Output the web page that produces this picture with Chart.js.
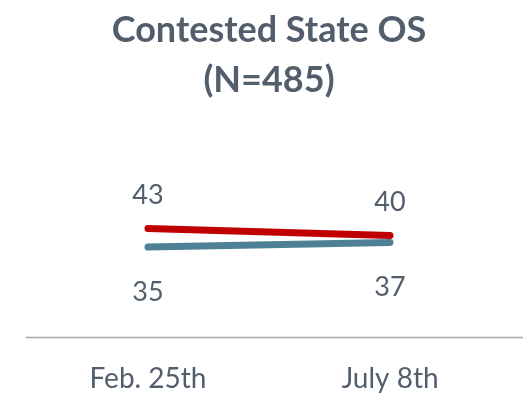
<!DOCTYPE html>
<html>
<head>
<meta charset="utf-8">
<script src="https://cdn.jsdelivr.net/npm/chart.js@4"></script>
<style>
  html, body { margin: 0; padding: 0; background: #fff; }
  #wrap { width: 523px; height: 396px; }
</style>
</head>
<body>
<div id="wrap"><canvas id="osChart"></canvas></div>
<script>
var dates = ['Feb. 25th', 'July 8th'];
var redValues = [43, 40];
var tealValues = [35, 37];

var textColor = '#525e6b';

// value labels: red above the line, teal below it
var valueLabels = {
    id: 'valueLabels',
    afterDatasetsDraw: function (chart) {
        var ctx = chart.ctx;
        ctx.save();
        ctx.font = '27px Lato';
        ctx.fillStyle = textColor;
        ctx.textAlign = 'center';
        ctx.textBaseline = 'middle';
        chart.data.datasets.forEach(function (ds, i) {
            var meta = chart.getDatasetMeta(i);
            meta.data.forEach(function (pt, j) {
                var dy = i === 0 ? -33 : 45;
                ctx.fillText(ds.data[j], pt.x, pt.y + dy);
            });
        });
        ctx.restore();
    }
};

// baseline under the plot
var baseLine = {
    id: 'baseLine',
    beforeDatasetsDraw: function (chart) {
        var ctx = chart.ctx;
        var y = chart.chartArea.bottom + 9;
        ctx.save();
        ctx.strokeStyle = '#a6a6a6';
        ctx.lineWidth = 1.5;
        ctx.beginPath();
        ctx.moveTo(26, y);
        ctx.lineTo(chart.width, y);
        ctx.stroke();
        ctx.restore();
    }
};

new Chart(document.getElementById('osChart').getContext('2d'), {
    type: 'line',
    data: {
        labels: dates,
        datasets: [{
            data: redValues,
            borderColor: '#c00000',
            borderWidth: 7,
            borderCapStyle: 'round',
            pointRadius: 0,
            fill: false
        }, {
            data: tealValues,
            borderColor: '#4f8196',
            borderWidth: 7,
            borderCapStyle: 'round',
            pointRadius: 0,
            fill: false
        }]
    },
    options: {
        responsive: true,
        maintainAspectRatio: false,
        animation: false,
        layout: { padding: { left: 27, right: 12, top: 4, bottom: -26 } },
        plugins: {
            legend: { display: false },
            tooltip: { enabled: false },
            title: {
                display: true,
                text: ['Contested State OS', '(N=485)'],
                color: textColor,
                font: { family: 'Lato', size: 36, weight: 'bold', lineHeight: 1.38 },
                padding: { top: 2, bottom: 0 }
            }
        },
        scales: {
            x: {
                offset: true,
                grid: { display: false },
                border: { display: false },
                ticks: { color: textColor, font: { family: 'Lato', size: 28 }, padding: 26 }
            },
            y: {
                display: false,
                min: 0,
                max: 96
            }
        }
    },
    plugins: [valueLabels, baseLine]
});
</script>
</body>
</html>
